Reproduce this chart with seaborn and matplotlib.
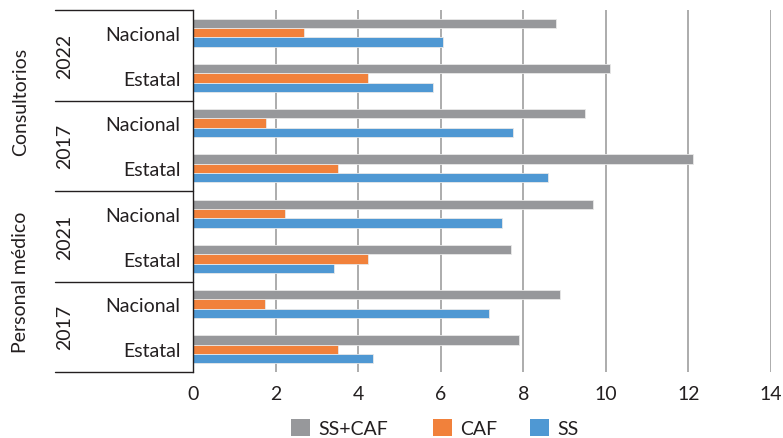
import matplotlib
matplotlib.use("Agg")
import matplotlib.pyplot as plt
import matplotlib.transforms as mtransforms
from matplotlib.patches import Patch
import pandas as pd
import seaborn as sns

# Rows from top to bottom: indicator, year, level
indicators = ["Consultorios"] * 4 + ["Personal médico"] * 4
years = ["2022", "2022", "2017", "2017", "2021", "2021", "2017", "2017"]
levels = ["Nacional", "Estatal"] * 4

series = ["SS+CAF", "CAF", "SS"]
ss_caf = [8.8, 10.1, 9.5, 12.1, 9.7, 7.7, 8.9, 7.9]
caf = [2.7, 4.25, 1.78, 3.5, 2.22, 4.23, 1.74, 3.5]
ss = [6.06, 5.81, 7.74, 8.6, 7.49, 3.42, 7.17, 4.37]

x_ticks = [0, 2, 4, 6, 8, 10, 12, 14]
colors = ["#97989b", "#f1813b", "#4f98d3"]
text_color = "#231f20"

rows = [f"{i} {y} {l}" for i, y, l in zip(indicators, years, levels)]
df = pd.DataFrame({
    "fila": rows * 3,
    "serie": sum([[s] * len(rows) for s in series], []),
    "valor": ss_caf + caf + ss,
})

sns.set_theme(style="white")
plt.rcParams["font.family"] = ["Lato", "DejaVu Sans"]
plt.rcParams["text.color"] = text_color

fig = plt.figure(figsize=(7.83, 4.39), dpi=100)
ax = fig.add_axes([193 / 783, 1 - 373 / 439, 578 / 783, 362 / 439])

sns.barplot(data=df, x="valor", y="fila", hue="serie", hue_order=series,
            order=rows, palette=colors, orient="h", width=0.62,
            edgecolor="#e8e8e8", linewidth=0.6, saturation=1, ax=ax,
            legend=False)

ax.set_xlim(0, 14)
ax.set_ylim(len(rows) - 0.5, -0.5)
ax.set_xticks(x_ticks)
ax.set_xticklabels([str(t) for t in x_ticks], fontsize=14, color=text_color)
ax.set_yticks(range(len(rows)))
ax.set_yticklabels(levels, fontsize=14, color=text_color)
ax.tick_params(axis="both", length=0)
ax.tick_params(axis="x", pad=9)
ax.tick_params(axis="y", pad=9)
ax.set_xlabel("")
ax.set_ylabel("")

for t in x_ticks[1:]:
    ax.axvline(t, color="#a6a6a6", linewidth=1.3, zorder=0)

for side in ["top", "right", "bottom"]:
    ax.spines[side].set_visible(False)
ax.spines["left"].set_color("#231f20")
ax.spines["left"].set_linewidth(1.0)

# Table-like separators on the category side
trans = mtransforms.blended_transform_factory(ax.transAxes, ax.transData)
x_left = (55 - 193) / 578
for yb in [-0.5, 1.5, 3.5, 5.5, 7.5]:
    ax.plot([x_left, 0], [yb, yb], color="#231f20", linewidth=1.0,
            transform=trans, clip_on=False)

# Year labels
year_x = (65 - 193) / 578
for k in range(0, len(rows), 2):
    ax.text(year_x, k + 0.5, years[k], rotation=90, ha="center", va="center",
            fontsize=14, color=text_color, transform=trans)

# Indicator labels
ind_x = (21 - 193) / 578
ax.text(ind_x, 1.5, "Consultorios", rotation=90, ha="center", va="center",
        fontsize=14, color=text_color, transform=trans)
ax.text(ind_x, 5.5, "Personal médico", rotation=90, ha="center", va="center",
        fontsize=14, color=text_color, transform=trans)

# Legend entries, one per series, placed along the bottom
legend_x = [291, 433, 530]
for name, c, lx in zip(series, colors, legend_x):
    fig.legend([Patch(facecolor=c, edgecolor="none")], [name],
               loc="center left", bbox_to_anchor=(lx / 783, 1 - 429 / 439),
               frameon=False, fontsize=14, handlelength=1.0, handleheight=1.0,
               handletextpad=0.4, borderpad=0, borderaxespad=0)

fig.savefig("out.png", dpi=100)
